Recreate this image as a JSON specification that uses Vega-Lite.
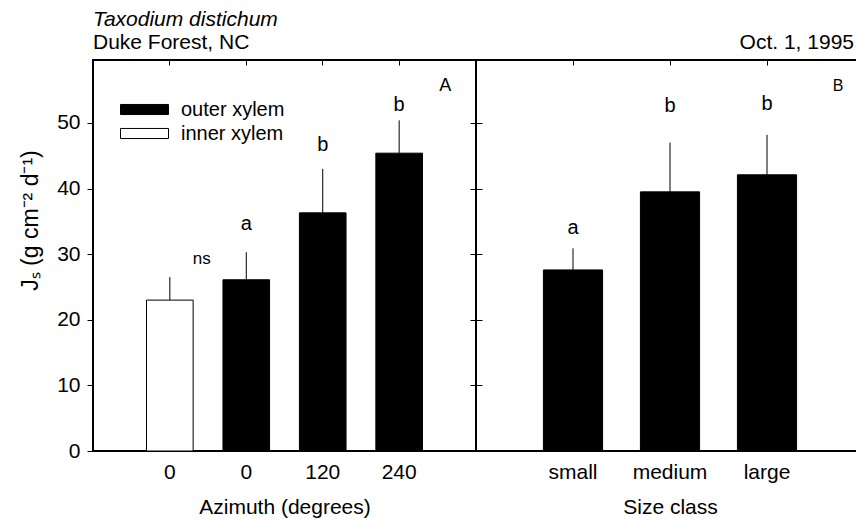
{
  "$schema": "https://vega.github.io/schema/vega-lite/v6.json",
  "padding": {"left": 18, "top": 7, "right": 0, "bottom": 0},
  "datasets": {
    "azimuth": [
      {"cat": "0 inner", "type": "inner xylem", "value": 23.0, "upper": 26.5, "letter": "ns", "ly": 28.5},
      {"cat": "0 outer", "type": "outer xylem", "value": 26.1, "upper": 30.3, "letter": "a", "ly": 33.7},
      {"cat": "120", "type": "outer xylem", "value": 36.3, "upper": 43.0, "letter": "b", "ly": 45.8},
      {"cat": "240", "type": "outer xylem", "value": 45.4, "upper": 50.4, "letter": "b", "ly": 51.9}
    ],
    "size": [
      {"cat": "small", "value": 27.6, "upper": 30.9, "letter": "a", "ly": 33.1},
      {"cat": "medium", "value": 39.5, "upper": 47.0, "letter": "b", "ly": 51.7},
      {"cat": "large", "value": 42.1, "upper": 48.2, "letter": "b", "ly": 52.0}
    ],
    "panelA": [{"panel": "A", "cat": "240", "ly": 54.8}],
    "panelB": [{"panel": "B", "cat": "large", "ly": 54.8}]
  },
  "hconcat": [
    {
      "width": 383,
      "height": 391,
      "title": {
        "text": "Taxodium distichum",
        "subtitle": "Duke Forest, NC",
        "anchor": "start",
        "frame": "group",
        "font": "Liberation Sans",
        "fontSize": 21,
        "fontStyle": "italic",
        "fontWeight": "normal",
        "color": "black",
        "subtitleFont": "Liberation Sans",
        "subtitleFontSize": 21,
        "subtitleColor": "black",
        "subtitlePadding": 2,
        "offset": 7
      },
      "resolve": {"axis": {"x": "independent", "y": "independent"}},
      "layer": [
        {
          "data": {"name": "azimuth"},
          "mark": {"type": "bar", "stroke": "black", "strokeWidth": 1},
          "encoding": {
            "x": {
              "field": "cat", "type": "nominal", "sort": null,
              "scale": {"paddingInner": 0.39, "paddingOuter": 0.7},
              "axis": {"orient": "bottom", "title": "Azimuth (degrees)", "labelAngle": 0, "ticks": false, "tickSize": 0, "labelPadding": 10, "titlePadding": 14, "labelExpr": "split(datum.label, ' ')[0]"}
            },
            "y": {
              "field": "value", "type": "quantitative",
              "scale": {"domain": [0, 59.6], "nice": false, "zero": true},
              "axis": {"orient": "left", "title": "Jₛ (g cm⁻² d⁻¹)", "values": [0, 10, 20, 30, 40, 50], "tickSize": 6, "labelPadding": 7, "titleFontSize": 23, "titlePadding": 14, "titleY": 160}
            },
            "fill": {
              "field": "type", "type": "nominal",
              "scale": {"domain": ["outer xylem", "inner xylem"], "range": ["black", "white"]},
              "legend": {
                "orient": "none", "legendX": 39, "legendY": 37, "title": null,
                "symbolType": "M-2,-0.42H2V0.42H-2Z", "symbolSize": 576,
                "symbolStrokeColor": "black", "symbolStrokeWidth": 1,
                "labelFont": "Liberation Sans", "labelFontSize": 20, "labelColor": "black",
                "labelOffset": 24, "rowPadding": 1, "padding": 0
              }
            }
          }
        },
        {
          "data": {"name": "azimuth"},
          "mark": {"type": "rule", "color": "black", "strokeWidth": 1},
          "encoding": {
            "x": {"field": "cat", "type": "nominal", "sort": null, "axis": {"orient": "top", "title": null, "labels": false, "tickSize": -5, "domain": false}},
            "y": {"field": "upper", "type": "quantitative", "axis": {"orient": "right", "title": null, "labels": false, "values": [0, 10, 20, 30, 40, 50], "tickSize": 6}},
            "y2": {"field": "value"}
          }
        },
        {
          "data": {"name": "azimuth"},
          "transform": [{"filter": "datum.letter != 'ns'"}],
          "mark": {"type": "text", "fontSize": 20, "baseline": "alphabetic", "font": "Liberation Sans", "color": "black"},
          "encoding": {
            "x": {"field": "cat", "type": "nominal", "sort": null, "axis": null},
            "y": {"field": "ly", "type": "quantitative", "axis": null},
            "text": {"field": "letter"}
          }
        },
        {
          "data": {"name": "azimuth"},
          "transform": [{"filter": "datum.letter == 'ns'"}],
          "mark": {"type": "text", "fontSize": 17, "baseline": "alphabetic", "font": "Liberation Sans", "color": "black", "dx": 32},
          "encoding": {
            "x": {"field": "cat", "type": "nominal", "sort": null, "axis": null},
            "y": {"field": "ly", "type": "quantitative", "axis": null},
            "text": {"field": "letter"}
          }
        },
        {
          "data": {"name": "panelA"},
          "mark": {"type": "text", "fontSize": 18, "baseline": "alphabetic", "font": "Liberation Sans", "color": "black", "dx": 46},
          "encoding": {
            "x": {"field": "cat", "type": "nominal", "sort": null, "axis": null},
            "y": {"field": "ly", "type": "quantitative", "axis": null},
            "text": {"field": "panel"}
          }
        }
      ]
    },
    {
      "width": 388,
      "height": 391,
      "title": {
        "text": "Oct. 1, 1995",
        "anchor": "end",
        "frame": "group",
        "font": "Liberation Sans",
        "fontSize": 21,
        "fontWeight": "normal",
        "color": "black",
        "offset": 7,
        "dx": -10
      },
      "resolve": {"axis": {"x": "independent", "y": "independent"}},
      "layer": [
        {
          "data": {"name": "size"},
          "mark": {"type": "bar", "color": "black", "stroke": "black", "strokeWidth": 1},
          "encoding": {
            "x": {
              "field": "cat", "type": "nominal", "sort": null,
              "scale": {"paddingInner": 0.39, "paddingOuter": 0.695},
              "axis": {"orient": "bottom", "title": "Size class", "labelAngle": 0, "ticks": false, "tickSize": 0, "labelPadding": 10, "titlePadding": 14}
            },
            "y": {
              "field": "value", "type": "quantitative",
              "scale": {"domain": [0, 59.6], "nice": false, "zero": true},
              "axis": {"orient": "left", "title": null, "labels": false, "values": [0, 10, 20, 30, 40, 50], "tickSize": 6}
            }
          }
        },
        {
          "data": {"name": "size"},
          "mark": {"type": "rule", "color": "black", "strokeWidth": 1},
          "encoding": {
            "x": {"field": "cat", "type": "nominal", "sort": null, "axis": {"orient": "top", "title": null, "labels": false, "tickSize": -5, "domain": false}},
            "y": {"field": "upper", "type": "quantitative", "axis": null},
            "y2": {"field": "value"}
          }
        },
        {
          "data": {"name": "size"},
          "mark": {"type": "text", "fontSize": 20, "baseline": "alphabetic", "font": "Liberation Sans", "color": "black"},
          "encoding": {
            "x": {"field": "cat", "type": "nominal", "sort": null, "axis": null},
            "y": {"field": "ly", "type": "quantitative", "axis": null},
            "text": {"field": "letter"}
          }
        },
        {
          "data": {"name": "panelB"},
          "mark": {"type": "text", "fontSize": 16, "baseline": "alphabetic", "font": "Liberation Sans", "color": "black", "dx": 71},
          "encoding": {
            "x": {"field": "cat", "type": "nominal", "sort": null, "axis": null},
            "y": {"field": "ly", "type": "quantitative", "axis": null},
            "text": {"field": "panel"}
          }
        }
      ]
    }
  ],
  "spacing": 0,
  "bounds": "flush",
  "config": {
    "font": "Liberation Sans",
    "view": {"stroke": "black", "strokeWidth": 2},
    "axis": {
      "domain": false, "grid": false,
      "labelColor": "black", "titleColor": "black", "tickColor": "black",
      "labelFont": "Liberation Sans", "titleFont": "Liberation Sans",
      "labelFontSize": 21, "titleFontSize": 21, "titleFontWeight": "normal",
      "tickWidth": 1
    }
  }
}
